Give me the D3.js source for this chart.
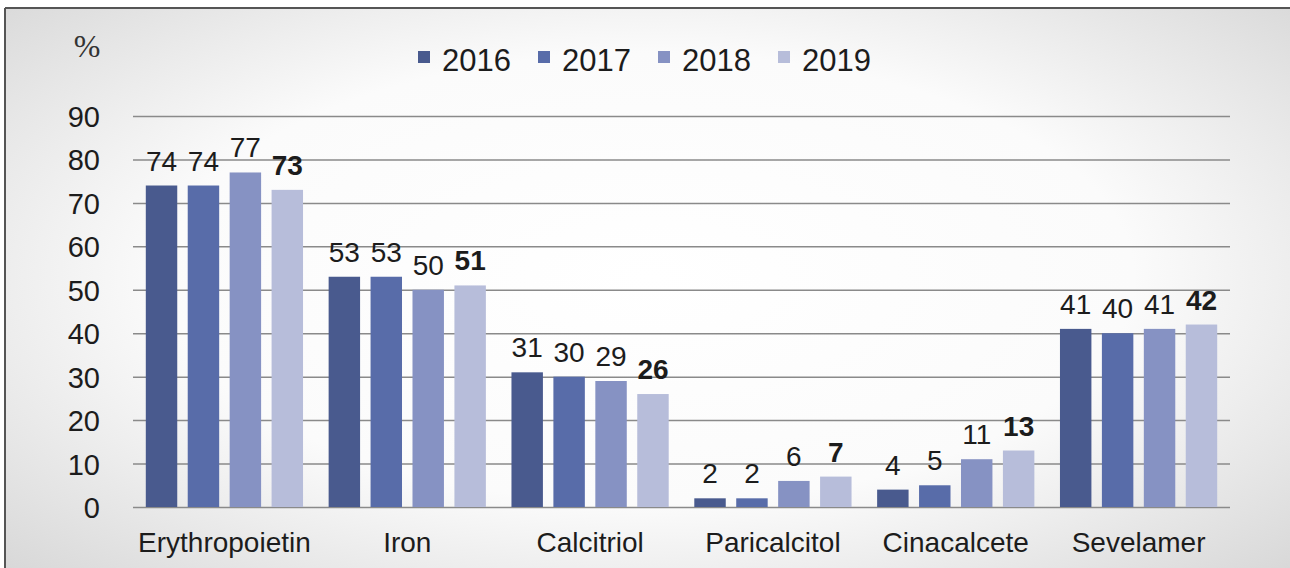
<!DOCTYPE html>
<html>
<head>
<meta charset="utf-8">
<script src="https://cdn.jsdelivr.net/npm/d3@7"></script>
<style>
  body { margin: 0; background: #fff; }
  svg text { font-family: "Liberation Sans", Arial, sans-serif; fill: #1c1c1c; }
</style>
</head>
<body>
<svg id="chart" width="1290" height="568"></svg>
<script>
const categories = ["Erythropoietin", "Iron", "Calcitriol", "Paricalcitol", "Cinacalcete", "Sevelamer"];
const years = ["2016", "2017", "2018", "2019"];
const values2016 = [74, 53, 31, 2, 4, 41];
const values2017 = [74, 53, 30, 2, 5, 40];
const values2018 = [77, 50, 29, 6, 11, 41];
const values2019 = [73, 51, 26, 7, 13, 42];
const yTicks = [0, 10, 20, 30, 40, 50, 60, 70, 80, 90];
const colors = ["#495a8e", "#586ca9", "#8692c3", "#b7bdda"];

const series = [values2016, values2017, values2018, values2019];

const svg = d3.select('#chart');

// background frame with soft gradient
const defs = svg.append('defs');
const grad = defs.append('radialGradient')
    .attr('id', 'bg')
    .attr('cx', '50%').attr('cy', '45%').attr('r', '75%');
grad.append('stop').attr('offset', '0').attr('stop-color', '#ffffff');
grad.append('stop').attr('offset', '0.5').attr('stop-color', '#fbfbfb');
grad.append('stop').attr('offset', '1').attr('stop-color', '#d2d2d2');

svg.append('rect')
    .attr('x', 5).attr('y', 8)
    .attr('width', 1290).attr('height', 600)
    .attr('fill', 'url(#bg)');
svg.append('line')
    .attr('x1', 5).attr('x2', 1290).attr('y1', 8).attr('y2', 8)
    .attr('stroke', '#555').attr('stroke-width', 2);
svg.append('line')
    .attr('x1', 5).attr('x2', 5).attr('y1', 8).attr('y2', 568)
    .attr('stroke', '#555').attr('stroke-width', 2);

const plotLeft = 133, plotRight = 1230, plotTop = 116, plotBottom = 507;

const yScale = d3.scaleLinear().domain([0, 90]).range([plotBottom, plotTop]);
const x0 = d3.scaleBand().domain(categories).range([plotLeft, plotRight])
    .paddingInner(0.14).paddingOuter(0.07);
const x1 = d3.scaleBand().domain(years).range([0, x0.bandwidth()])
    .paddingInner(0.25).paddingOuter(0);

// gridlines + y labels
const yAxis = d3.axisLeft(yScale).tickValues(yTicks)
    .tickSize(-(plotRight - plotLeft)).tickPadding(33).tickFormat(d3.format('d'));
const gy = svg.append('g')
    .attr('transform', `translate(${plotLeft},0)`)
    .call(yAxis);
gy.select('.domain').remove();
gy.selectAll('.tick line').attr('stroke', '#8a8a8a').attr('stroke-width', 1.5);
gy.selectAll('.tick text')
    .attr('font-size', 29)
    .attr('dy', '0.36em')
    .style('fill', '#1c1c1c');

// x axis labels
const xAxis = d3.axisBottom(x0).tickSize(0).tickPadding(25);
const gx = svg.append('g')
    .attr('transform', `translate(0,${plotBottom})`)
    .call(xAxis);
gx.select('.domain').remove();
gx.selectAll('.tick text').attr('font-size', 28).style('fill', '#1c1c1c');

// bars
const groups = svg.append('g').selectAll('g')
    .data(categories)
    .enter()
    .append('g')
    .attr('transform', d => `translate(${x0(d)},0)`);

const cells = (c, i) => years.map((y, k) => ({ year: y, k: k, value: series[k][i] }));

groups.selectAll('rect')
    .data(cells)
    .enter()
    .append('rect')
    .attr('x', d => x1(d.year))
    .attr('y', d => yScale(d.value))
    .attr('width', x1.bandwidth())
    .attr('height', d => plotBottom - yScale(d.value))
    .attr('fill', d => colors[d.k]);

groups.selectAll('text')
    .data(cells)
    .enter()
    .append('text')
    .attr('x', d => x1(d.year) + x1.bandwidth() / 2)
    .attr('y', d => yScale(d.value) - 15)
    .attr('text-anchor', 'middle')
    .attr('font-size', 28)
    .attr('font-weight', d => d.k === 3 ? 'bold' : 'normal')
    .text(d => d.value);

// legend
const legend = svg.append('g').selectAll('g')
    .data(years)
    .enter()
    .append('g')
    .attr('transform', (d, i) => `translate(${418 + i * 120},0)`);
legend.append('rect')
    .attr('x', 0).attr('y', 51)
    .attr('width', 12).attr('height', 12)
    .attr('fill', (d, i) => colors[i]);
legend.append('text')
    .attr('x', 24).attr('y', 71)
    .attr('font-size', 31)
    .text(d => d);

// unit label
svg.append('text')
    .attr('x', 87).attr('y', 57)
    .attr('text-anchor', 'middle')
    .attr('font-size', 32)
    .style('font-family', '"Liberation Serif", serif')
    .style('fill', '#333')
    .text('%');
</script>
</body>
</html>
